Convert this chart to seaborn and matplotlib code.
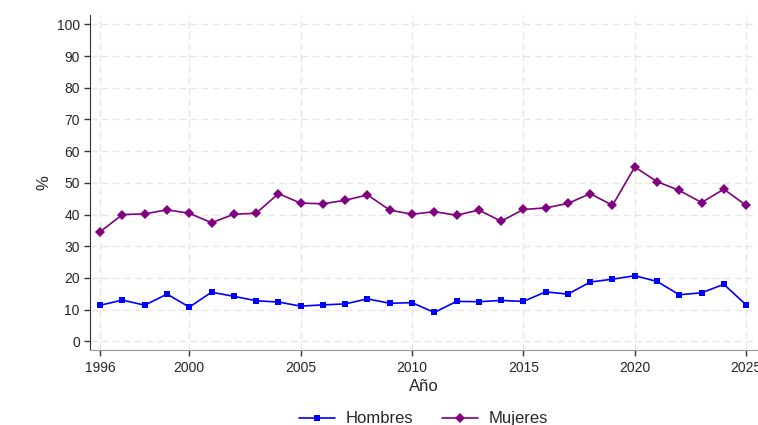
import pandas as pd
import matplotlib
matplotlib.use('Agg')
import matplotlib.pyplot as plt
import seaborn as sns

# data
anios = list(range(1996, 2026))
hombres = [11.4, 13.0, 11.4, 14.9, 10.8, 15.5, 14.2, 12.8, 12.4, 11.1,
           11.5, 11.8, 13.4, 12.0, 12.2, 9.1, 12.6, 12.5, 12.9, 12.6,
           15.6, 14.9, 18.7, 19.6, 20.7, 18.9, 14.7, 15.3, 18.0, 11.5]
mujeres = [34.6, 40.0, 40.2, 41.5, 40.4, 37.4, 40.1, 40.4, 46.6, 43.6,
           43.4, 44.5, 46.2, 41.4, 40.1, 40.9, 39.8, 41.4, 37.9, 41.6,
           42.1, 43.5, 46.6, 42.9, 55.0, 50.4, 47.6, 43.8, 48.0, 42.9]
xticks = [1996, 2000, 2005, 2010, 2015, 2020, 2025]
yticks = list(range(0, 101, 10))

df = pd.DataFrame({'Año': anios * 2,
                   'valor': hombres + mujeres,
                   'grupo': ['Hombres'] * len(anios) + ['Mujeres'] * len(anios)})

sns.set_style('white')
plt.rcParams['font.family'] = ['Liberation Sans', 'DejaVu Sans']

fig = plt.figure(figsize=(7.58, 4.25), dpi=100)
ax = fig.add_axes([0.119, 0.176, 0.88, 0.789])

sns.lineplot(data=df, x='Año', y='valor', hue='grupo', style='grupo',
             palette={'Hombres': '#0000FF', 'Mujeres': '#800080'},
             markers={'Hombres': 's', 'Mujeres': 'D'},
             dashes=False, markersize=5, markeredgewidth=0, linewidth=1.2,
             ax=ax, legend=True)

ax.set_xlim(1995.55, 2025.5)
ax.set_ylim(-2.8, 103)
ax.set_xticks(xticks)
ax.set_yticks(yticks)
ax.grid(True, color='#e6e6e6', linestyle=(0, (5, 3)), linewidth=1)
ax.tick_params(axis='both', labelsize=10, length=4, width=1, color='#333333',
               left=True, bottom=True)
ax.set_xlabel('Año', fontsize=12, labelpad=3)
ax.set_ylabel('%', fontsize=12)

for s in ['top', 'right']:
    ax.spines[s].set_visible(False)
ax.spines['left'].set_color('#333333')
ax.spines['bottom'].set_color('#999999')

handles, labels = ax.get_legend_handles_labels()
ax.legend(handles, labels, loc='center', bbox_to_anchor=(0.5, -0.205),
          ncol=2, frameon=False, fontsize=12, columnspacing=1.7,
          handlelength=2.15, handletextpad=0.65, borderpad=0.2)

fig.savefig('out.png', dpi=100)
